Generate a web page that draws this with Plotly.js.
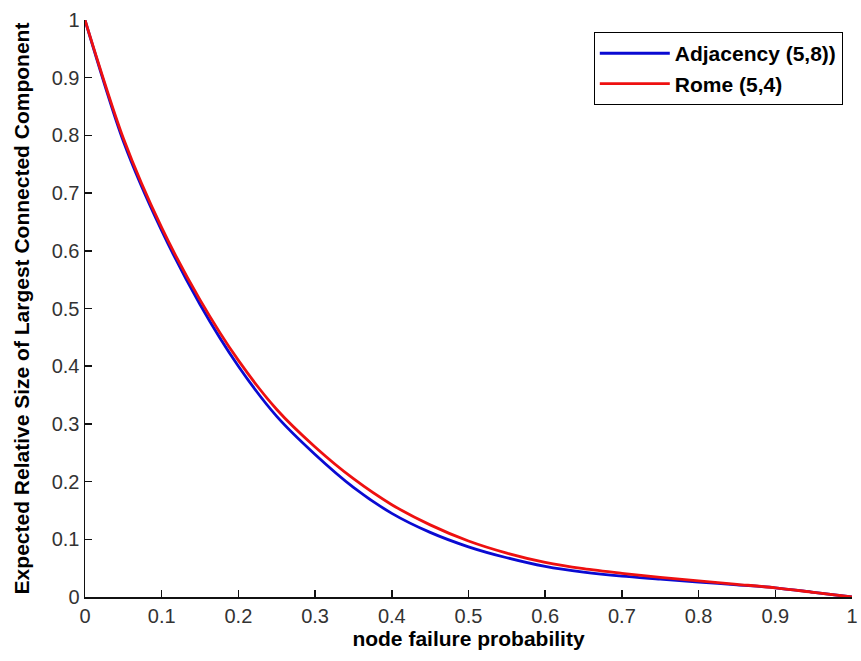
<!DOCTYPE html>
<html>
<head>
<meta charset="utf-8">
<script src="https://cdn.plot.ly/plotly-3.0.1.min.js"></script>
<style>html,body{margin:0;padding:0;background:#fff;}#chart{width:861px;height:661px;}</style>
</head>
<body>
<div id="chart"></div>
<script>
var failureProb = [0, 0.05, 0.1, 0.15, 0.2, 0.25, 0.3, 0.35, 0.4, 0.45, 0.5, 0.55, 0.6, 0.65, 0.7, 0.75, 0.8, 0.85, 0.9, 0.95, 1.0];
var adjacency = [1.0, 0.79, 0.635, 0.507, 0.4, 0.313, 0.247, 0.19, 0.145, 0.112, 0.087, 0.068, 0.053, 0.043, 0.036, 0.031, 0.026, 0.021, 0.016, 0.008, 0.0];
var rome = [1.0, 0.795, 0.64, 0.515, 0.41, 0.325, 0.26, 0.205, 0.16, 0.125, 0.097, 0.076, 0.06, 0.049, 0.041, 0.034, 0.028, 0.022, 0.016, 0.008, 0.0];
var seriesNames = ['Adjacency (5,8))', 'Rome (5,4)'];
var tickVals = [0, 0.1, 0.2, 0.3, 0.4, 0.5, 0.6, 0.7, 0.8, 0.9, 1];
var tickText = ['0', '0.1', '0.2', '0.3', '0.4', '0.5', '0.6', '0.7', '0.8', '0.9', '1'];

var traces = [
  {x: failureProb, y: adjacency, name: seriesNames[0], type: 'scatter', mode: 'lines',
   line: {color: '#0a0ad2', width: 2.8, shape: 'spline', smoothing: 0.8}},
  {x: failureProb, y: rome, name: seriesNames[1], type: 'scatter', mode: 'lines',
   line: {color: '#ee1010', width: 2.8, shape: 'spline', smoothing: 0.8}}
];

var axisCommon = {
  range: [0, 1], tickmode: 'array', tickvals: tickVals, ticktext: tickText,
  ticks: 'inside', ticklen: 7, tickwidth: 1.5, tickcolor: '#111',
  showline: true, linecolor: '#111', linewidth: 1.5, showgrid: false, zeroline: false,
  tickfont: {family: 'Arial, Liberation Sans, sans-serif', size: 20, color: '#333'},
  mirror: false, fixedrange: true
};

var layout = {
  width: 861, height: 661,
  margin: {l: 85, r: 9, t: 20, b: 64},
  paper_bgcolor: '#fff', plot_bgcolor: '#fff',
  showlegend: true,
  legend: {
    x: 0.988, y: 0.979, xanchor: 'right', yanchor: 'top',
    bordercolor: '#000', borderwidth: 1, bgcolor: '#fff',
    font: {family: 'Arial, Liberation Sans, sans-serif', size: 21, color: '#000', weight: 'bold'},
    itemwidth: 70, tracegroupgap: 0
  },
  xaxis: Object.assign({}, axisCommon, {
    title: {text: '<b>node failure probability</b>', standoff: 6,
            font: {family: 'Arial, Liberation Sans, sans-serif', size: 21, color: '#000'}}
  }),
  yaxis: Object.assign({}, axisCommon, {
    title: {text: '<b>Expected Relative Size of Largest Connected Component</b>', standoff: 16,
            font: {family: 'Arial, Liberation Sans, sans-serif', size: 21, color: '#000'}}
  })
};

Plotly.newPlot('chart', traces, layout, {displayModeBar: false, staticPlot: true});
</script>
</body>
</html>
